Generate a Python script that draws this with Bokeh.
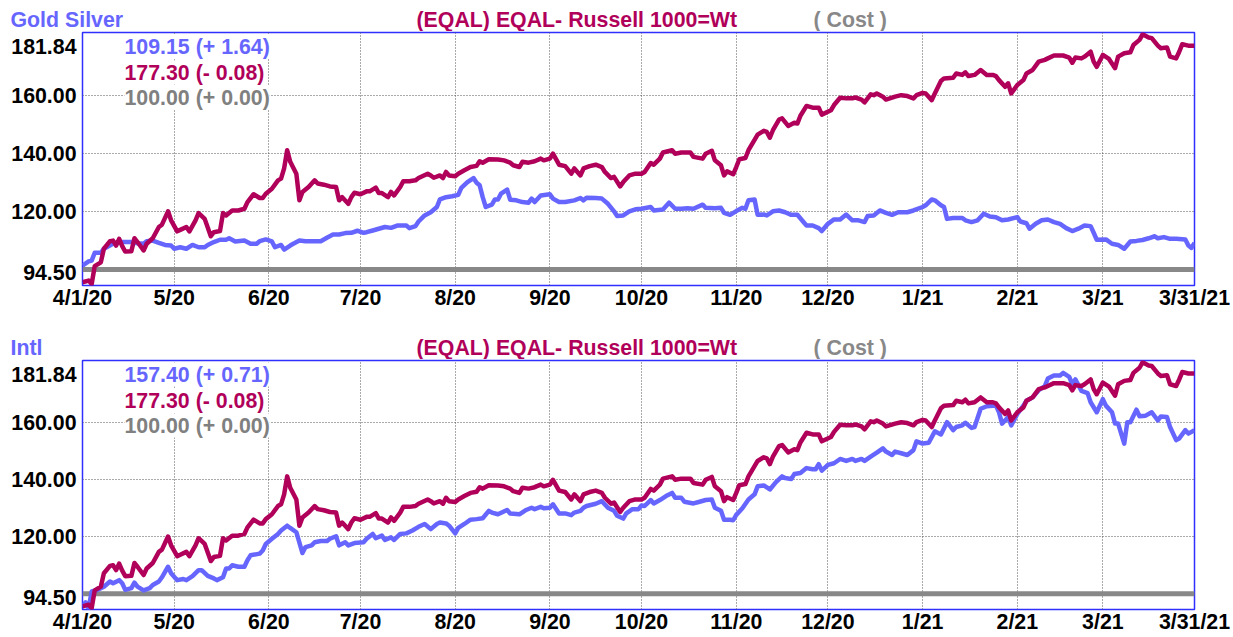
import pandas as pd
from bokeh.plotting import figure
from bokeh.models import Range1d, FixedTicker, Label, ColumnDataSource
from bokeh.core.properties import value
from bokeh.layouts import column
from bokeh.embed import file_html
from bokeh.resources import INLINE

# ---------------- data ----------------
START = pd.Timestamp("2020-04-01")
END = pd.Timestamp("2021-03-31")

x_tick_dates = ["2020-04-01", "2020-05-01", "2020-06-01", "2020-07-01", "2020-08-01",
                "2020-09-01", "2020-10-01", "2020-11-01", "2020-12-01", "2021-01-01",
                "2021-02-01", "2021-03-01", "2021-03-31"]
x_tick_labels = ["4/1/20", "5/20", "6/20", "7/20", "8/20", "9/20", "10/20", "11/20",
                 "12/20", "1/21", "2/21", "3/21", "3/31/21"]

y_min, y_max = 94.50, 181.84
y_grid_values = [120, 140, 160]
y_tick_labels = ["94.50", "120.00", "140.00", "160.00", "181.84"]

benchmark_name = "(EQAL) EQAL- Russell 1000=Wt"
cost_name = "( Cost )"
panel_names = ["Gold Silver", "Intl"]
series_texts = ["109.15 (+ 1.64)", "157.40 (+ 0.71)"]
eqal_text = "177.30 (- 0.08)"
cost_text = "100.00 (+ 0.00)"

# (day offset from 4/1/20, value)
eqal = [(0,95.6),(2,96.2),(3,95.0),(4,101.2),(6,102.5),(7,107.2),(9,109.8),(10,110.0),(11,108.3),(12,110.6),
(13,108.1),(14,106.2),(16,106.3),(17,110.8),(18,109.5),(20,106.6),(21,108.9),(23,110.8),(25,114.7),(26,115.5),
(28,120.1),(29,117.0),(31,113.2),(32,113.7),(34,114.7),(35,113.2),(37,117.0),(38,119.5),(40,117.5),(42,111.5),
(43,112.9),(45,113.3),(46,119.5),(47,118.7),(49,120.4),(51,120.4),(53,121.0),(54,123.3),(56,126.0),(58,124.7),
(59,124.7),(60,126.2),(62,127.9),(64,130.8),(65,131.4),(66,134.9),(67,141.2),(68,137.2),(70,133.1),(71,123.9),
(72,126.8),(74,128.5),(76,130.8),(77,129.7),(79,129.3),(81,128.7),(83,128.5),(84,123.9),(85,125.0),(87,122.7),
(88,125.0),(89,126.5),(91,126.0),(93,127.0),(94,127.0),(96,128.3),(97,126.4),(98,126.4),(100,125.0),(101,126.8),
(102,125.6),(104,128.5),(105,130.5),(107,130.5),(109,130.8),(110,131.6),(113,133.1),(114,132.5),(115,131.7),(117,132.5),
(118,131.6),(119,133.7),(120,132.5),(122,132.2),(123,133.1),(125,134.3),(127,135.4),(129,135.8),(130,137.4),(131,136.9),
(133,138.1),(136,138.0),(138,137.7),(140,136.9),(141,136.0),(143,135.4),(144,137.2),(146,136.9),(148,137.4),(150,138.3),
(151,137.7),(153,138.3),(154,140.0),(156,136.2),(158,135.7),(160,133.1),(161,134.9),(163,132.5),(164,134.9),(166,135.7),
(168,136.2),(170,135.4),(171,133.7),(173,131.6),(174,132.0),(176,128.7),(177,130.2),(179,132.5),(181,133.1),(183,133.1),
(184,133.7),(186,136.8),(187,136.2),(189,138.3),(190,140.4),(193,141.2),(194,140.0),(196,140.4),(199,140.4),(200,138.9),
(203,138.3),(204,140.0),(206,141.0),(207,137.7),(209,136.0),(210,132.5),(211,133.9),(213,132.9),(214,135.4),(215,138.1),
(217,138.5),(218,141.2),(221,146.6),(223,147.9),(224,147.5),(225,145.5),(226,148.1),(228,151.8),(229,152.2),(231,149.6),
(233,150.7),(234,150.4),(235,153.1),(237,156.5),(239,155.9),(241,155.9),(242,153.5),(245,155.0),(246,156.8),(248,159.3),
(250,159.1),(252,159.1),(253,159.4),(255,158.7),(256,157.7),(258,160.5),(259,160.2),(260,160.8),(262,159.7),(263,158.7),
(266,159.7),(268,160.2),(270,159.9),(272,159.1),(273,160.2),(275,161.0),(276,160.8),(278,158.5),(279,160.8),(281,165.1),
(282,166.0),(285,166.2),(286,167.7),(288,167.2),(289,168.1),(290,166.8),(292,167.2),(294,168.9),(296,167.2),(298,167.2),
(299,166.8),(300,165.4),(302,163.1),(303,164.3),(304,160.8),(306,163.7),(308,165.4),(309,167.7),(311,168.9),(313,171.8),
(315,172.4),(316,172.9),(318,173.9),(321,173.9),(323,173.2),(324,171.4),(325,173.2),(327,172.9),(328,173.5),(330,175.2),
(331,171.8),(332,170.0),(334,174.1),(336,172.7),(338,169.5),(339,173.5),(341,174.7),(343,175.0),(344,177.5),(346,179.3),
(347,181.2),(349,180.1),(350,179.9),(352,177.3),(353,176.4),(355,176.7),(356,173.5),(358,172.9),(359,175.2),(360,177.8),
(362,177.3),(364,177.3)]

gold_silver = [(0,101.4),(2,102.8),(3,103.1),(4,105.8),(6,105.8),(7,107.2),(10,108.9),(12,109.5),(14,109.5),(16,109.5),
(18,109.1),(20,108.9),(21,109.8),(23,110.0),(25,109.2),(27,108.5),(29,108.3),(30,107.2),(32,107.7),(34,107.2),
(36,108.5),(38,107.7),(40,107.7),(41,108.5),(43,109.5),(45,110.3),(47,110.3),(48,110.8),(50,109.7),(53,110.0),
(55,108.9),(57,108.9),(58,109.8),(60,110.4),(62,109.7),(63,107.7),(65,108.5),(66,106.9),(68,108.3),(69,108.9),
(71,110.0),(73,109.8),(75,109.8),(78,109.8),(80,111.0),(82,112.1),(84,112.1),(86,112.6),(88,112.7),(90,113.4),
(92,112.7),(93,112.9),(95,113.5),(97,114.1),(99,114.7),(101,114.4),(103,115.2),(106,115.2),(107,114.3),(109,115.0),
(110,116.6),(112,118.7),(114,119.8),(116,121.6),(117,124.2),(119,125.0),(121,125.3),(123,125.8),(124,128.2),(126,130.2),
(128,131.6),(129,130.0),(130,129.1),(131,125.0),(132,121.6),(134,122.4),(135,124.2),(136,124.2),(137,126.2),(139,127.6),
(140,124.1),(142,123.9),(144,123.3),(146,123.1),(147,124.5),(148,123.3),(150,125.6),(153,126.0),(154,124.5),(156,123.3),
(158,123.3),(161,123.9),(163,124.7),(164,123.9),(165,124.8),(168,124.7),(170,124.5),(172,122.7),(174,120.1),(175,118.5),
(177,118.7),(179,120.1),(181,120.8),(183,121.0),(186,121.6),(187,120.4),(190,120.7),(192,123.1),(194,121.0),(196,121.0),
(198,121.2),(200,121.0),(203,122.4),(204,121.3),(207,121.2),(209,121.3),(210,119.6),(212,118.9),(214,120.2),(216,121.3),
(217,121.0),(218,123.9),(220,124.2),(221,118.9),(223,119.0),(224,118.7),(226,120.1),(228,120.4),(230,119.8),(232,118.9),
(234,118.9),(236,116.4),(237,115.2),(239,115.2),(241,114.3),(242,113.3),(244,115.8),(246,117.3),(248,117.3),(250,119.0),
(252,117.0),(254,117.0),(256,116.4),(257,118.5),(259,118.7),(261,120.4),(263,119.6),(265,118.9),(267,119.8),(270,119.8),
(272,120.4),(275,121.6),(276,122.2),(278,124.2),(279,123.9),(281,122.2),(282,121.6),(283,117.5),(285,117.8),(288,117.8),
(289,117.0),(291,116.4),(293,117.0),(295,119.3),(297,118.3),(299,118.1),(301,117.0),(303,117.3),(306,118.1),(307,116.6),
(309,116.0),(310,114.1),(312,115.8),(314,117.0),(316,117.3),(318,116.4),(320,115.8),(322,114.3),(324,113.3),(326,114.1),
(328,115.2),(330,115.0),(331,112.7),(332,110.3),(335,110.4),(337,108.9),(339,108.5),(341,107.2),(343,109.7),(345,109.9),
(347,110.2),(349,110.8),(351,111.5),(352,110.8),(354,111.2),(356,110.6),(358,110.6),(361,110.4),(362,108.3),(363,107.5),
(364,109.2)]

intl = [(0,95.6),(1,97.0),(2,95.0),(3,100.8),(5,101.4),(7,102.5),(9,104.3),(10,103.7),(12,104.8),(13,103.7),
(14,101.4),(16,102.0),(17,103.9),(18,102.5),(20,101.2),(22,102.0),(23,103.1),(25,104.3),(26,105.8),(28,109.5),
(29,107.2),(31,104.8),(33,105.2),(34,104.8),(36,106.2),(38,108.3),(39,108.3),(41,106.3),(43,105.4),(44,104.8),
(46,105.8),(47,108.9),(48,108.9),(49,110.0),(51,109.5),(53,109.5),(54,111.8),(55,113.5),(58,114.1),(59,115.2),
(60,117.5),(62,119.3),(64,121.0),(65,122.2),(67,123.9),(68,123.1),(70,121.6),(72,114.3),(73,116.4),(75,117.0),
(76,118.1),(78,118.5),(80,118.5),(81,119.3),(83,120.2),(84,117.0),(86,118.1),(87,117.0),(89,117.8),(92,118.1),
(93,119.3),(95,121.0),(96,119.5),(98,120.4),(99,118.9),(101,119.8),(102,118.9),(104,121.0),(106,121.2),(108,122.2),
(110,123.5),(112,124.5),(114,122.7),(116,124.5),(117,125.0),(119,124.7),(120,123.9),(122,121.2),(123,123.1),(125,124.5),
(127,126.0),(129,126.2),(131,126.5),(133,129.1),(134,128.5),(136,127.9),(139,129.4),(140,128.2),(143,127.9),(145,129.3),
(147,130.2),(148,129.7),(150,130.5),(151,130.0),(153,130.2),(154,131.4),(156,128.2),(158,128.2),(160,127.6),(161,128.5),
(163,129.1),(164,130.2),(165,130.8),(168,131.6),(170,132.5),(172,130.2),(174,129.1),(175,127.4),(177,126.4),(178,128.2),
(180,129.7),(182,129.7),(183,131.0),(184,130.8),(186,132.9),(187,131.7),(189,132.9),(191,134.3),(193,135.4),(194,133.7),
(196,133.7),(197,132.3),(200,131.7),(202,132.3),(204,132.9),(206,133.1),(207,130.2),(209,129.1),(210,126.0),(212,126.0),
(213,125.8),(214,127.7),(216,130.0),(218,133.1),(220,134.9),(221,137.7),(223,138.0),(225,136.6),(227,139.2),(229,141.2),
(230,140.6),(232,140.3),(233,142.0),(235,142.4),(237,144.1),(239,143.7),(240,143.7),(241,145.5),(242,143.2),(244,145.2),
(246,145.8),(248,147.3),(250,146.6),(252,147.3),(253,146.6),(255,147.3),(256,146.6),(258,148.1),(260,149.5),(262,151.0),
(263,149.9),(265,148.7),(266,149.9),(268,149.3),(270,148.7),(272,150.4),(273,153.5),(275,152.7),(277,153.0),(279,157.0),
(281,155.9),(283,160.2),(285,157.4),(286,158.5),(288,159.1),(289,160.0),(291,158.2),(292,158.5),(294,164.9),(296,165.8),
(298,166.0),(299,166.0),(300,163.7),(301,159.7),(302,160.8),(303,162.0),(304,159.1),(306,163.1),(308,166.0),(309,167.7),
(311,168.9),(313,171.4),(315,172.9),(316,175.5),(318,176.6),(320,176.6),(321,177.5),(323,176.1),(324,173.5),(325,175.2),
(327,171.2),(329,170.4),(330,167.2),(332,163.7),(334,168.3),(335,166.0),(337,163.7),(338,159.7),(339,159.7),(341,152.7),
(342,160.2),(343,160.2),(345,164.6),(346,162.3),(348,162.5),(350,163.7),(352,160.8),(353,162.2),(355,162.0),(356,158.5),
(358,153.9),(359,154.5),(361,157.4),(362,156.2),(364,157.4)]

cost = [(0, 100.0), (364, 100.0)]

# ---------------- styling ----------------
BLUE = "#6666ff"
RED = "#b0005a"
GRAY = "#888888"
FRAME = "#2f2fff"
FONT = "Liberation Sans"
FS = "16pt"

WIDTH = 1232
BORDER_L = 82
FRAME_W = 1112
BORDER_R = WIDTH - BORDER_L - FRAME_W


def ms(ts):
    return pd.Timestamp(ts).timestamp() * 1000.0


def to_source(pairs):
    days = [p[0] for p in pairs]
    vals = [p[1] for p in pairs]
    dates = START + pd.to_timedelta(days, unit="D")
    return ColumnDataSource(dict(x=dates, y=vals))


def make_header(name, height):
    h = figure(width=WIDTH, height=height, x_range=Range1d(0, WIDTH),
               y_range=Range1d(0, height), output_backend="svg", toolbar_location=None,
               x_axis_location=None, y_axis_location=None, frame_align=False,
               min_border=0, min_border_left=0, min_border_right=0,
               min_border_top=0, min_border_bottom=0)
    h.grid.visible = False
    h.outline_line_color = None
    h.background_fill_color = "white"
    h.border_fill_color = "white"
    src = ColumnDataSource(dict(
        x=[10, 416, 813],
        y=[11.5, 11.5, 11.5],
        t=[name, benchmark_name, cost_name],
        c=[BLUE, RED, "#888888"]))
    h.text(x="x", y="y", text="t", text_color="c", source=src,
           text_font=value(FONT), text_font_size=value(FS), text_font_style="bold",
           text_baseline="middle", text_align="left")
    return h


def make_panel(series, series_text, height, top, bottom):
    frame_h = height - top - bottom
    ppu = frame_h / (y_max - y_min)
    y_ticks = [round(y_min + 12.5 / ppu, 2)] + y_grid_values + [round(y_max - 14 / ppu, 2)]

    p = figure(width=WIDTH, height=height, x_axis_type="datetime",
               x_range=Range1d(ms(START), ms(END)), y_range=Range1d(y_min, y_max),
               output_backend="svg", toolbar_location=None, frame_align=False,
               min_border_left=BORDER_L, min_border_right=BORDER_R,
               min_border_top=top, min_border_bottom=bottom)
    p.background_fill_color = "white"
    p.border_fill_color = "white"
    p.outline_line_color = FRAME
    p.outline_line_width = 1.5

    xt = [int(ms(d)) for d in x_tick_dates]
    p.xaxis.ticker = FixedTicker(ticks=xt)
    p.xaxis.major_label_overrides = {t: l for t, l in zip(xt, x_tick_labels)}
    p.yaxis.ticker = FixedTicker(ticks=y_ticks)
    p.yaxis.major_label_overrides = {t: l for t, l in zip(y_ticks, y_tick_labels)}
    for ax in (p.xaxis, p.yaxis):
        ax.axis_line_color = None
        ax.major_tick_line_color = None
        ax.minor_tick_line_color = None
        ax.major_tick_out = 0
        ax.major_tick_in = 0
        ax.major_label_text_font = FONT
        ax.major_label_text_font_size = FS
        ax.major_label_text_font_style = "bold"
        ax.major_label_text_color = "black"
    p.xaxis.major_label_standoff = 0
    p.yaxis.major_label_standoff = 6

    p.xgrid.ticker = FixedTicker(ticks=xt)
    p.ygrid.ticker = FixedTicker(ticks=y_grid_values)
    for g in (p.xgrid, p.ygrid):
        g.grid_line_color = "#555555"
        g.grid_line_dash = "1 2"
        g.grid_line_width = 1

    p.line("x", "y", source=to_source(cost), line_color=GRAY, line_width=5)
    p.line("x", "y", source=to_source(series), line_color=BLUE, line_width=4.5,
           line_join="round")
    p.line("x", "y", source=to_source(eqal), line_color=RED, line_width=4.5,
           line_join="round")

    x0 = ms(START)
    rows = [(series_text, BLUE, -14), (eqal_text, RED, -40), (cost_text, "#808080", -65)]
    for txt, col, dy in rows:
        p.add_layout(Label(x=x0, y=y_max, x_offset=42, y_offset=dy, text=txt,
                           text_color=col, text_font=FONT, text_font_size=FS,
                           text_font_style="bold", text_baseline="middle",
                           text_align="left", background_fill_color="white"))
    return p


h1 = make_header(panel_names[0], 31)
p1 = make_panel(gold_silver, series_texts[0], 289, 1, 35)
h2 = make_header(panel_names[1], 39)
p2 = make_panel(intl, series_texts[1], 277, 1, 23)
layout = column(h1, p1, h2, p2, spacing=0)

open("out.html", "w").write(file_html(layout, INLINE))
